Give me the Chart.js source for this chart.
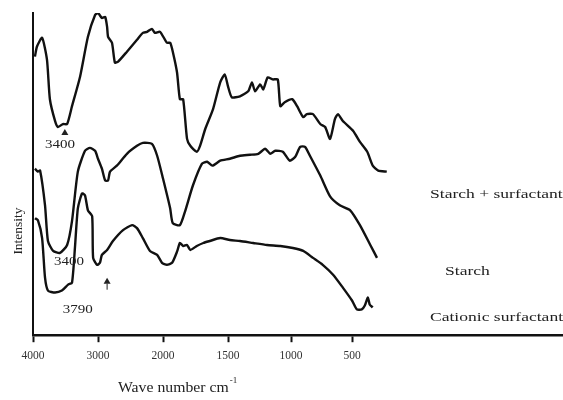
<!DOCTYPE html>
<html>
<head>
<meta charset="utf-8">
<script src="https://cdn.jsdelivr.net/npm/chart.js@4.4.0/dist/chart.umd.min.js"></script>
<style>
  html, body { margin: 0; padding: 0; background: #fff; }
</style>
</head>
<body>
<canvas id="ftir-chart" width="563" height="400"></canvas>
<script>
// FTIR spectra: wave numbers (cm-1) and relative intensity (arbitrary units)
var tickWaveNumbers = [4000, 3000, 2000, 1500, 1000, 500];

var mixWn = [3970, 3940, 3860, 3785, 3740, 3660, 3615, 3540, 3475, 3400, 3275, 3155, 3045, 3000, 2940, 2890, 2860, 2845, 2785, 2740, 2690, 2555, 2400, 2310, 2245, 2170, 2125, 2045, 1970, 1945, 1923, 1892, 1870, 1845, 1815, 1790, 1740, 1715, 1675, 1615, 1560, 1525, 1500, 1470, 1405, 1340, 1310, 1285, 1245, 1220, 1185, 1145, 1105, 1085, 1050, 990, 950, 900, 870, 820, 760, 720, 680, 640, 615, 575, 490, 435, 375, 330, 285, 215];
var mixInt = [281, 291, 300, 278, 238, 216, 210, 213, 213, 231, 261, 301, 323, 325, 320, 321, 311, 301, 295, 275, 276, 286, 298, 305, 306, 309, 305, 306, 295, 295, 285, 265, 238, 238, 198, 191, 185, 191, 208, 228, 255, 263, 251, 240, 241, 246, 255, 246, 253, 248, 260, 258, 258, 231, 235, 238, 231, 220, 223, 223, 213, 210, 198, 218, 223, 216, 206, 195, 185, 171, 166, 165];

var starchWn = [3970, 3925, 3890, 3815, 3770, 3690, 3585, 3475, 3400, 3310, 3200, 3125, 3045, 3000, 2940, 2890, 2845, 2815, 2710, 2555, 2400, 2310, 2170, 2090, 2000, 1945, 1925, 1870, 1830, 1770, 1700, 1660, 1620, 1560, 1485, 1405, 1325, 1260, 1205, 1165, 1125, 1065, 1010, 965, 925, 885, 845, 760, 680, 600, 515, 435, 350, 295];
var starchInt = [168, 165, 166, 131, 95, 85, 83, 91, 115, 165, 186, 189, 186, 178, 168, 156, 156, 165, 171, 183, 191, 194, 193, 181, 158, 128, 113, 111, 125, 151, 173, 175, 171, 176, 178, 181, 182, 183, 188, 183, 186, 185, 176, 180, 190, 190, 181, 161, 140, 131, 126, 111, 91, 78];

var cationWn = [3970, 3925, 3860, 3815, 3770, 3660, 3555, 3460, 3400, 3355, 3310, 3245, 3200, 3155, 3090, 3075, 3015, 2970, 2940, 2860, 2770, 2615, 2475, 2400, 2310, 2200, 2090, 2015, 1970, 1930, 1890, 1870, 1845, 1815, 1790, 1740, 1690, 1640, 1560, 1485, 1405, 1300, 1190, 1085, 985, 900, 820, 740, 655, 575, 500, 460, 420, 395, 370, 355, 330];
var cationInt = [118, 116, 98, 58, 45, 43, 45, 51, 53, 88, 128, 143, 141, 126, 120, 78, 71, 73, 81, 86, 95, 106, 111, 108, 98, 85, 81, 73, 71, 73, 85, 93, 90, 91, 86, 90, 93, 95, 98, 96, 95, 93, 91, 90, 88, 85, 78, 71, 61, 48, 35, 26, 26, 30, 38, 31, 28];

// peak labels and arrows (wave number, intensity)
var noteLabels = ['3400', '3400', '3790'];
var noteWn = [3585, 3445, 3310];
var noteInt = [192, 74, 26];
var arrowWn = [3510, 2860];
var arrowInt = [208, 58];

var seriesNames = ['Starch + surfactant', 'Starch', 'Cationic surfactant'];

// the original axis changes scale at 2000 cm-1, so map wave number to axis position
function axisPos(wn) {
  if (wn >= 2000) return (4000 - wn) * 0.065;
  if (wn >= 1500) return 130 + (2000 - wn) * 0.13;
  if (wn >= 1000) return 195 + (1500 - wn) * 0.126;
  return 258 + (1000 - wn) * 0.122;
}

function toPoints(wn, ints) {
  return wn.map(function(w, i) { return { x: axisPos(w), y: ints[i] }; });
}

var serif = '"Liberation Serif", "DejaVu Serif", serif';

// text drawn a bit wider, like the scanned figure
function wideText(c, txt, x, y, sx) {
  c.save();
  c.translate(x, y);
  c.scale(sx, 1);
  c.fillText(txt, 0, 0);
  c.restore();
}

var textPlugin = {
  id: 'ftirText',
  afterDatasetsDraw: function(chart) {
    var c = chart.ctx, xs = chart.scales.x, ys = chart.scales.y, area = chart.chartArea;
    c.save();
    c.fillStyle = '#222';
    c.textAlign = 'center';
    c.textBaseline = 'middle';
    c.font = '12px ' + serif;
    noteLabels.forEach(function(t, i) {
      wideText(c, t, xs.getPixelForValue(axisPos(noteWn[i])), ys.getPixelForValue(noteInt[i]), 1.25);
    });
    // arrows
    arrowWn.forEach(function(w, i) {
      var x = xs.getPixelForValue(axisPos(w)), y = ys.getPixelForValue(arrowInt[i]);
      c.beginPath();
      c.moveTo(x, y);
      c.lineTo(x - 3.5, y + 6);
      c.lineTo(x + 3.5, y + 6);
      c.closePath();
      c.fill();
      if (i === 1) {
        c.fillRect(x - 0.5, y + 6, 1, 6);
      }
    });
    // series names on the right
    c.textAlign = 'left';
    c.font = '13.5px ' + serif;
    wideText(c, seriesNames[0], area.left + 397, 194, 1.3);
    wideText(c, seriesNames[1], area.left + 412, 271, 1.3);
    wideText(c, seriesNames[2], area.left + 397, 317, 1.3);
    // axis titles
    c.font = '13.5px ' + serif;
    c.save();
    c.translate(18, 231);
    c.rotate(-Math.PI / 2);
    c.textAlign = 'center';
    c.fillText('Intensity', 0, 0);
    c.restore();
    c.font = '15px ' + serif;
    c.textAlign = 'left';
    wideText(c, 'Wave number cm', 118, 388, 1.05);
    var w = c.measureText('Wave number cm').width * 1.05;
    c.font = '9px ' + serif;
    c.fillText('-1', 118 + w + 1, 381);
    c.restore();
  }
};

var ctx = document.getElementById('ftir-chart').getContext('2d');

var lineStyle = {
  borderColor: '#111',
  borderWidth: 2.4,
  pointRadius: 0,
  tension: 0.2,
  fill: false
};

var chart = new Chart(ctx, {
  type: 'line',
  data: {
    datasets: [
      Object.assign({ label: seriesNames[0], data: toPoints(mixWn, mixInt) }, lineStyle),
      Object.assign({ label: seriesNames[1], data: toPoints(starchWn, starchInt) }, lineStyle),
      Object.assign({ label: seriesNames[2], data: toPoints(cationWn, cationInt) }, lineStyle)
    ]
  },
  options: {
    responsive: false,
    animation: false,
    layout: { padding: { top: 13, left: 25, right: 0, bottom: 30 } },
    plugins: {
      legend: { display: false },
      tooltip: { enabled: false }
    },
    scales: {
      x: {
        type: 'linear',
        min: 0,
        max: 530,
        afterBuildTicks: function(scale) {
          scale.ticks = tickWaveNumbers.map(function(w) { return { value: axisPos(w) }; });
        },
        grid: {
          display: true,
          drawOnChartArea: false,
          drawTicks: true,
          tickLength: 7,
          tickWidth: 2,
          tickColor: '#111'
        },
        border: { display: true, color: '#111', width: 2.5 },
        ticks: {
          autoSkip: false,
          maxRotation: 0,
          padding: 7,
          color: '#333',
          font: { family: serif, size: 11.5 },
          callback: function(v, i) { return tickWaveNumbers[i]; }
        }
      },
      y: {
        min: 0,
        max: 325,
        grid: { display: false },
        border: { display: true, color: '#111', width: 2 },
        ticks: { display: false }
      }
    }
  },
  plugins: [textPlugin]
});
</script>
</body>
</html>
